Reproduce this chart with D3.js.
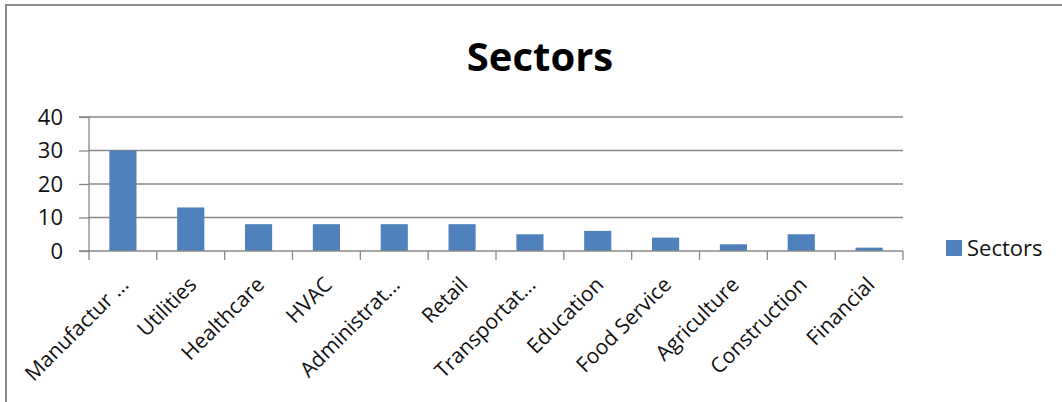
<!DOCTYPE html>
<html>
<head>
<meta charset="utf-8">
<script src="https://cdn.jsdelivr.net/npm/d3@7"></script>
<style>
body { margin: 0; background: #fff; }
svg { display: block; font-family: "Open Sans", sans-serif; }
</style>
</head>
<body>
<div id="chart"></div>
<script>
// chart data
const categories = ["Manufactur ...", "Utilities", "Healthcare", "HVAC", "Administrat...", "Retail",
  "Transportat...", "Education", "Food Service", "Agriculture", "Construction", "Financial"];
const values = [30, 13, 8, 8, 8, 8, 5, 6, 4, 2, 5, 1];
const yTicks = [0, 10, 20, 30, 40];
const seriesName = "Sectors";
const title = "Sectors";

const W = 1062, H = 402;
const plot = { left: 89, right: 903, top: 117, bottom: 251 };

const svg = d3.select("#chart").append("svg")
  .attr("width", W).attr("height", H);

// outer frame (only top + left visible in the picture)
svg.append("path")
  .attr("d", `M6,${H} L6,5 L${W},5`)
  .attr("fill", "none").attr("stroke", "#8a8a8a").attr("stroke-width", 2);

svg.append("text")
  .attr("x", 540).attr("y", 71)
  .attr("text-anchor", "middle")
  .attr("font-size", 40).attr("font-weight", "bold")
  .attr("fill", "#000")
  .text(title);

const x = d3.scaleBand().domain(categories).range([plot.left, plot.right]);
const y = d3.scaleLinear().domain([0, 40]).range([plot.bottom, plot.top]);

// gridlines
svg.append("g").selectAll("line")
  .data(yTicks.filter(d => d > 0))
  .enter().append("line")
  .attr("x1", plot.left).attr("x2", plot.right)
  .attr("y1", d => y(d)).attr("y2", d => y(d))
  .attr("stroke", "#888").attr("stroke-width", 1.3);

// y axis
const yAxis = svg.append("g")
  .attr("transform", `translate(${plot.left},0)`)
  .call(d3.axisLeft(y).tickValues(yTicks).tickSize(10).tickPadding(16));
yAxis.selectAll("line, path").attr("stroke", "#888").attr("stroke-width", 1.3);
yAxis.select(".domain").attr("d", `M-10,${plot.bottom}H0V${plot.top}H-10`);
yAxis.selectAll("text").attr("font-size", 22).attr("fill", "#111")
  .attr("font-family", "Open Sans, sans-serif");

// bars
const bw = x.bandwidth() / 2.5;
svg.append("g").selectAll("rect")
  .data(values)
  .enter().append("rect")
  .attr("x", (d, i) => x(categories[i]) + (x.bandwidth() - bw) / 2)
  .attr("y", d => y(d))
  .attr("width", bw)
  .attr("height", d => y(0) - y(d))
  .attr("fill", "#4f81bd");

// x axis with tick marks on category boundaries
const xg = svg.append("g");
xg.append("line")
  .attr("x1", plot.left).attr("x2", plot.right)
  .attr("y1", plot.bottom).attr("y2", plot.bottom)
  .attr("stroke", "#888").attr("stroke-width", 1.3);
xg.selectAll("line.tk")
  .data(categories.concat(["_end"]))
  .enter().append("line").attr("class", "tk")
  .attr("x1", (d, i) => plot.left + i * x.step())
  .attr("x2", (d, i) => plot.left + i * x.step())
  .attr("y1", plot.bottom).attr("y2", plot.bottom + 9)
  .attr("stroke", "#888").attr("stroke-width", 1.3);

xg.selectAll("text")
  .data(categories)
  .enter().append("text")
  .attr("transform", d => `translate(${x(d) + x.bandwidth() / 2 + 7},${plot.bottom + 35}) rotate(-45)`)
  .attr("text-anchor", "end")
  .attr("font-size", 21)
  .attr("fill", "#111")
  .text(d => d);

// legend
const lg = svg.append("g").attr("transform", "translate(946,240)");
lg.append("rect").attr("width", 16).attr("height", 16).attr("fill", "#4f81bd");
lg.append("text").attr("x", 21).attr("y", 16)
  .attr("font-size", 22).attr("fill", "#111").text(seriesName);
</script>
</body>
</html>
